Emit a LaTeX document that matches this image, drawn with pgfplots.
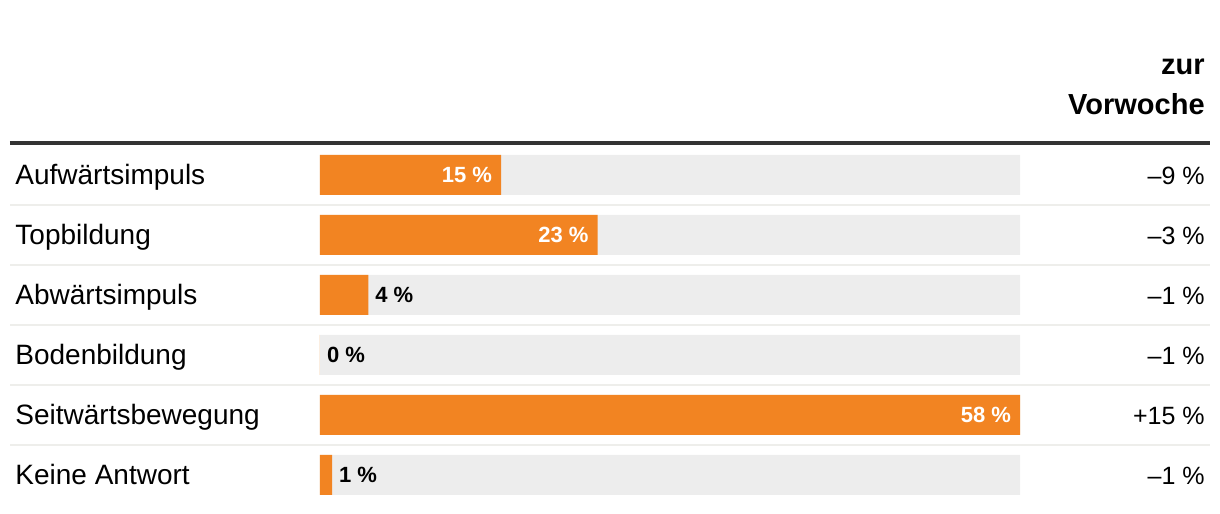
\documentclass[border=0pt]{standalone}
\usepackage{fontspec}
\setmainfont{Liberation Sans}
\usepackage{pgfplots}
\pgfplotsset{compat=1.18}
\definecolor{barorange}{HTML}{F28422}
\definecolor{bargray}{HTML}{EDEDED}
\definecolor{sepgray}{HTML}{EEEEEB}
\definecolor{darkline}{HTML}{333333}
\tikzset{rowlab/.style={anchor=base west, inner sep=0pt, font=\fontsize{14}{16}\selectfont},
  chlab/.style={anchor=base east, inner sep=0pt, font=\fontsize{12.5}{15}\selectfont}}
\begin{document}
\begin{tikzpicture}
\begin{axis}[
  scale only axis, width=350pt, height=180pt,
  xmin=0, xmax=58, ymin=-0.5, ymax=5.5, y dir=reverse,
  hide axis, clip=false,
  xbar, bar width=20pt, bar shift=0pt,
]
% background bars
\addplot[fill=bargray, draw=none] coordinates {(58,0) (58,1) (58,2) (58,3) (58,4) (58,5)};
% orange bars, label inside
\addplot[fill=barorange, draw=none, point meta=explicit symbolic,
  nodes near coords, nodes near coords style={anchor=east, text=white, font=\bfseries\fontsize{11}{13}\selectfont, xshift=-1pt}]
  coordinates {(15,0) [15 \%] (23,1) [23 \%] (58,4) [58 \%]};
% orange bars, label outside
\addplot[fill=barorange, draw=none, point meta=explicit symbolic,
  nodes near coords, nodes near coords style={anchor=west, text=black, font=\bfseries\fontsize{11}{13}\selectfont, xshift=0pt}]
  coordinates {(4,2) [4 \%] (0,3) [0 \%] (1,5) [1 \%]};
% lines
\draw[darkline, line width=2pt] (axis cs:-25.686,-0.5333) -- (axis cs:73.743,-0.5333);
\draw[sepgray, line width=1pt] (axis cs:-25.686,0.5) -- (axis cs:73.743,0.5);
\draw[sepgray, line width=1pt] (axis cs:-25.686,1.5) -- (axis cs:73.743,1.5);
\draw[sepgray, line width=1pt] (axis cs:-25.686,2.5) -- (axis cs:73.743,2.5);
\draw[sepgray, line width=1pt] (axis cs:-25.686,3.5) -- (axis cs:73.743,3.5);
\draw[sepgray, line width=1pt] (axis cs:-25.686,4.5) -- (axis cs:73.743,4.5);
% header
\node[anchor=base east, font=\bfseries\fontsize{14.5}{17}\selectfont, inner sep=0pt] at (axis cs:73.33,-1.6667) {zur};
\node[anchor=base east, font=\bfseries\fontsize{14.5}{17}\selectfont, inner sep=0pt] at (axis cs:73.33,-1.0) {Vorwoche};
% row labels
\node[rowlab] at (axis cs:-25.27,0.16) {Aufwärtsimpuls};
\node[rowlab] at (axis cs:-25.27,1.16) {Topbildung};
\node[rowlab] at (axis cs:-25.27,2.16) {Abwärtsimpuls};
\node[rowlab] at (axis cs:-25.27,3.16) {Bodenbildung};
\node[rowlab] at (axis cs:-25.27,4.16) {Seitwärtsbewegung};
\node[rowlab] at (axis cs:-25.27,5.16) {Keine Antwort};
% change column
\node[chlab] at (axis cs:73.33,0.16) {\textendash 9 \%};
\node[chlab] at (axis cs:73.33,1.16) {\textendash 3 \%};
\node[chlab] at (axis cs:73.33,2.16) {\textendash 1 \%};
\node[chlab] at (axis cs:73.33,3.16) {\textendash 1 \%};
\node[chlab] at (axis cs:73.33,4.16) {+15 \%};
\node[chlab] at (axis cs:73.33,5.16) {\textendash 1 \%};
\coordinate (bbA) at (axis cs:-26.514,-2.9167);
\coordinate (bbB) at (axis cs:74.571,5.65);
\end{axis}
\path (bbA) rectangle (bbB);
\end{tikzpicture}
\end{document}
